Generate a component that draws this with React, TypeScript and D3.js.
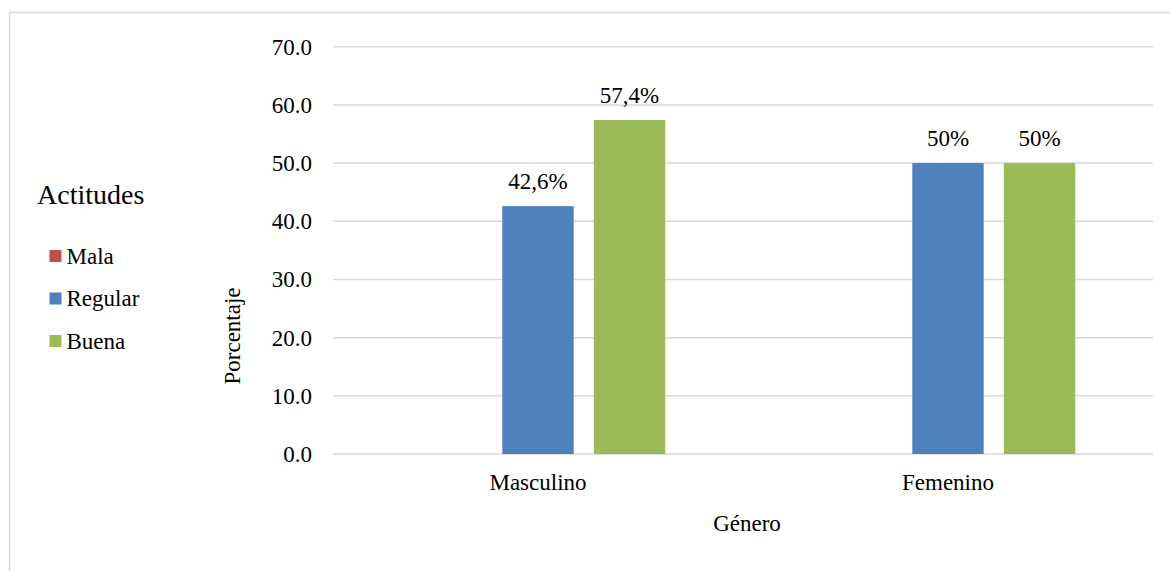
import React from "react";
import * as d3 from "d3";

// Chart data
const categories = ["Masculino", "Femenino"];
const seriesNames = ["Mala", "Regular", "Buena"];
const mala = [0, 0];
const regular = [42.6, 50];
const buena = [57.4, 50];
const yTicks = [0, 10, 20, 30, 40, 50, 60, 70];
const seriesColors = ["#C0504D", "#4F81BD", "#9BBB59"];

const W = 1170;
const H = 571;
const FONT = '"Liberation Serif", "Times New Roman", Times, serif';

const plot = { left: 333, right: 1153, top: 46.7, bottom: 454 };

const fmtLabel = (v: number) =>
  Number.isInteger(v) ? `${v}%` : `${v.toFixed(1).replace(".", ",")}%`;

const txt = { fontFamily: FONT };

export default function App() {
  const seriesValues = [mala, regular, buena];

  const x0 = d3
    .scaleBand<string>()
    .domain(categories)
    .range([plot.left, plot.right])
    .paddingInner(0)
    .paddingOuter(0);

  // inner band: 3 bars of ~71.5px with ~20px gaps, centered in each category
  const x1 = d3
    .scaleBand<string>()
    .domain(seriesNames)
    .range([77.75, x0.bandwidth() - 77.75])
    .paddingInner(0.22)
    .paddingOuter(0);

  const y = d3.scaleLinear().domain([0, 70]).range([plot.bottom, plot.top]);

  return (
    <svg
      width={W}
      height={H}
      style={{ position: "absolute", left: 0, top: 0, background: "#fff", fontFamily: FONT }}
    >
      <rect x={0} y={0} width={W} height={H} fill="#fff" />
      <rect
        x={9.5}
        y={12.5}
        width={W + 20}
        height={H + 20}
        fill="none"
        stroke="#D9D9D9"
        strokeWidth={1.5}
      />

      {/* gridlines and y tick labels */}
      {yTicks.map((t) => (
        <g key={t}>
          <line
            x1={plot.left}
            x2={plot.right}
            y1={y(t)}
            y2={y(t)}
            stroke="#D9D9D9"
            strokeWidth={1.5}
          />
          <text
            x={312}
            y={y(t)}
            dy="0.35em"
            textAnchor="end"
            fontSize={23}
            fill="#000"
            style={txt}
          >
            {t.toFixed(1)}
          </text>
        </g>
      ))}

      {/* bars */}
      {categories.map((c, ci) => (
        <g key={c} transform={`translate(${x0(c)},0)`}>
          {seriesNames.map((s, si) => {
            const v = seriesValues[si][ci];
            const bx = x1(s) as number;
            return (
              <g key={s}>
                <rect
                  x={bx}
                  y={y(v)}
                  width={x1.bandwidth()}
                  height={y(0) - y(v)}
                  fill={seriesColors[si]}
                />
                {v > 0 && (
                  <text
                    x={bx + x1.bandwidth() / 2}
                    y={y(v) - 17}
                    textAnchor="middle"
                    fontSize={23}
                    fill="#000"
                    style={txt}
                  >
                    {fmtLabel(v)}
                  </text>
                )}
              </g>
            );
          })}
          <text
            x={x0.bandwidth() / 2}
            y={490}
            textAnchor="middle"
            fontSize={23}
            fill="#000"
            style={txt}
          >
            {c}
          </text>
        </g>
      ))}

      {/* axis titles */}
      <text
        x={(plot.left + plot.right) / 2 + 4}
        y={531}
        textAnchor="middle"
        fontSize={23}
        fill="#000"
        style={txt}
      >
        Género
      </text>
      <text
        transform={`translate(240,336) rotate(-90)`}
        textAnchor="middle"
        fontSize={23}
        fill="#000"
        style={txt}
      >
        Porcentaje
      </text>

      {/* legend */}
      <text x={37} y={204} fontSize={28} fill="#000" style={txt}>
        Actitudes
      </text>
      {seriesNames.map((s, i) => {
        const cy = 256 + i * 42.5;
        return (
          <g key={s}>
            <rect x={49.5} y={cy - 6} width={12} height={12} fill={seriesColors[i]} />
            <text x={66.5} y={cy} dy="0.33em" fontSize={23} fill="#000" style={txt}>
              {s}
            </text>
          </g>
        );
      })}
    </svg>
  );
}
